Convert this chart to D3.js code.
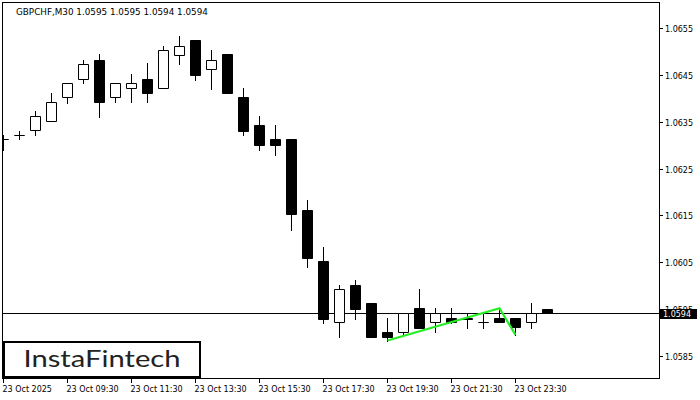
<!DOCTYPE html>
<html><head><meta charset="utf-8">
<script src="https://cdn.jsdelivr.net/npm/d3@7"></script>
<style>html,body{margin:0;padding:0;background:#fff;}svg{display:block;}</style>
</head><body>
<svg id="c" width="700" height="400"></svg>
<script>
const title = "GBPCHF,M30  1.0595 1.0595 1.0594 1.0594";
const opens  = [1.06313,1.06321,1.06332,1.06352,1.06403,1.06441,1.06482,1.06403,1.06422,1.06442,1.06422,1.06493,1.06524,1.06463,1.06494,1.06404,1.06344,1.06314,1.06314,1.06162,1.06052,1.05921,1.06001,1.05962,1.05900,1.05900,1.05951,1.05921,1.05930,1.05930,1.05921,1.05930,1.05930,1.05921,1.05950];
const highs  = [1.06322,1.06331,1.06374,1.06412,1.06433,1.06483,1.06494,1.06433,1.06453,1.06475,1.06513,1.06534,1.06524,1.06504,1.06494,1.06423,1.06363,1.06344,1.06314,1.06183,1.06082,1.06001,1.06012,1.05962,1.05930,1.05940,1.05992,1.05951,1.05951,1.05940,1.05940,1.05951,1.05930,1.05962,1.05950];
const lows   = [1.06290,1.06314,1.06321,1.06352,1.06391,1.06433,1.06361,1.06392,1.06392,1.06392,1.06422,1.06473,1.06440,1.06421,1.06411,1.06321,1.06290,1.06280,1.06119,1.06040,1.05920,1.05890,1.05929,1.05890,1.05882,1.05894,1.05909,1.05900,1.05919,1.05909,1.05909,1.05921,1.05894,1.05909,1.05940];
const closes = [1.06313,1.06322,1.06362,1.06393,1.06433,1.06474,1.06392,1.06433,1.06433,1.06411,1.06504,1.06512,1.06451,1.06482,1.06411,1.06331,1.06301,1.06301,1.06152,1.06059,1.05928,1.05992,1.05950,1.05890,1.05890,1.05940,1.05909,1.05940,1.05921,1.05929,1.05921,1.05921,1.05910,1.05940,1.05940];
const yTicks = [1.0585,1.0595,1.0605,1.0615,1.0625,1.0635,1.0645,1.0655];
const xTickIdx = [0,4,8,12,16,20,24,28,32];
const xTickLabels = ["23 Oct 2025","23 Oct 09:30","23 Oct 11:30","23 Oct 13:30","23 Oct 15:30","23 Oct 17:30","23 Oct 19:30","23 Oct 21:30","23 Oct 23:30"];
const patternIdx = [24,31,32];
const patternPrice = [1.05882,1.05951,1.05894];
const currentPrice = 1.0594;
const logoText = "InstaFintech";

const L = 3, R = 659, T = 3, B = 378;
const svg = d3.select("#c");
const x = d3.scaleLinear().domain([0,41]).range([3,659]);
const y = d3.scaleLinear().domain([1.0585,1.0655]).range([355.5,28.3]);
const font = "DejaVu Sans, sans-serif";

svg.append("defs").append("clipPath").attr("id","pc")
  .append("rect").attr("x",L).attr("y",T).attr("width",R-L).attr("height",B-T);

// title
svg.append("text").attr("x",16).attr("y",15).attr("font-family",font).attr("font-size",8.8)
  .attr("fill","#000").text(title);

const g = svg.append("g").attr("clip-path","url(#pc)");
const idx = d3.range(opens.length);
const sn = v => Math.round(v)+0.5;

// current price line
g.append("line").attr("x1",L).attr("x2",R).attr("y1",sn(y(currentPrice))).attr("y2",sn(y(currentPrice)))
  .attr("stroke","#000").attr("stroke-width",1);

// wicks
g.selectAll("line.w").data(idx).join("line").attr("class","w")
  .attr("x1",i=>Math.round(x(i))+0.5).attr("x2",i=>Math.round(x(i))+0.5)
  .attr("y1",i=>Math.round(y(highs[i]))).attr("y2",i=>Math.round(y(lows[i]))+1)
  .attr("stroke","#000").attr("stroke-width",1);

// bodies
g.selectAll("path.b").data(idx).join("path").attr("class","b")
  .attr("d",i=>{
    const cx = Math.round(x(i));
    const x0 = cx-4.5, x1 = cx+5.5;
    const y0 = sn(y(Math.max(opens[i],closes[i])));
    const y1 = sn(y(Math.min(opens[i],closes[i])));
    return `M${x0},${y0}H${x1}V${y1}H${x0}Z`;
  })
  .attr("fill",i=>closes[i]>=opens[i]?"#fff":"#000")
  .attr("stroke","#000").attr("stroke-width",1);

// pattern line
g.append("path")
  .attr("d", d3.line().x(i=>x(patternIdx[i])+0.5).y(i=>y(patternPrice[i]))(d3.range(patternIdx.length)))
  .attr("fill","none").attr("stroke","#22ee22").attr("stroke-width",2.2);

// frame
svg.append("rect").attr("x",L-0.5).attr("y",T-0.5).attr("width",R-L+1).attr("height",B-T+1)
  .attr("fill","none").attr("stroke","#000").attr("stroke-width",1);

// y axis ticks
const ya = svg.append("g");
yTicks.forEach(v=>{
  const yy = sn(y(v));
  ya.append("line").attr("x1",R+1).attr("x2",R+4).attr("y1",yy).attr("y2",yy).attr("stroke","#000");
  ya.append("text").attr("x",665).attr("y",yy+3).attr("font-family",font).attr("font-size",8)
    .attr("fill","#000").text(d3.format(".4f")(v));
});
// current price label
const cy = sn(y(currentPrice));
svg.append("rect").attr("x",660).attr("y",cy-4.5).attr("width",37).attr("height",10).attr("fill","#000");
svg.append("text").attr("x",663).attr("y",cy+3.5).attr("font-family",font).attr("font-size",8)
  .attr("fill","#fff").text(d3.format(".4f")(currentPrice));

// x axis
const xa = svg.append("g");
xTickIdx.forEach((k,j)=>{
  const xx = Math.round(x(k))+0.5;
  xa.append("line").attr("x1",xx).attr("x2",xx).attr("y1",B+1).attr("y2",B+5).attr("stroke","#000");
  xa.append("text").attr("x",xx-1).attr("y",392).attr("font-family",font).attr("font-size",8)
    .attr("fill","#000").text(xTickLabels[j]);
});

// logo
svg.append("rect").attr("x",4).attr("y",342).attr("width",196).attr("height",35)
  .attr("fill","#fff").attr("stroke","#000").attr("stroke-width",2);
svg.append("text").attr("x",102).attr("y",367).attr("text-anchor","middle")
  .attr("font-family","Lato, sans-serif").attr("font-size",23).attr("fill","#222")
  .attr("textLength",157).attr("lengthAdjust","spacingAndGlyphs").text(logoText);
</script>
</body></html>
